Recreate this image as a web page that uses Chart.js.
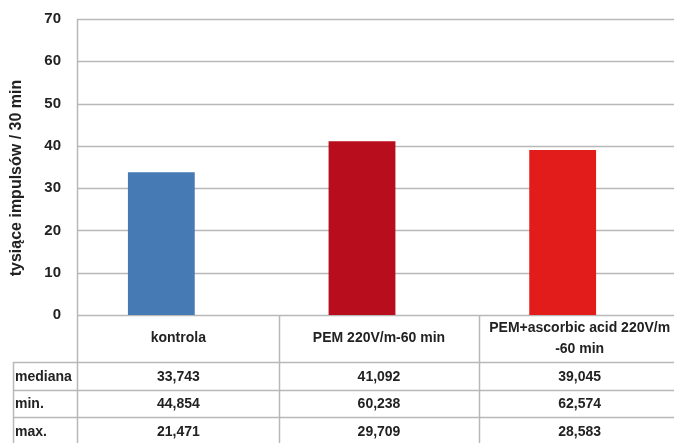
<!DOCTYPE html>
<html>
<head>
    <title>tysiące impulsów</title>
    <script src="https://cdn.jsdelivr.net/npm/chart.js"></script>
    <style>
        body { margin: 0; background: #fff; }
    </style>
</head>
<body>
    <canvas id="myChart" width="674" height="443"></canvas>
    <script>
        // data
        var categories = ['kontrola', 'PEM 220V/m-60 min', ['PEM+ascorbic acid 220V/m', '-60 min']];
        var mediana = [33.743, 41.092, 39.045];
        var minVals = [44.854, 60.238, 62.574];
        var maxVals = [21.471, 29.709, 28.583];
        var rowLabels = ['mediana', 'min.', 'max.'];
        var yTicks = [0, 10, 20, 30, 40, 50, 60, 70];
        var yTitle = 'tysiące impulsów / 30 min';
        var barColors = ['#457ab4', '#b80d1c', '#e21b1b'];

        var font = "'Liberation Sans', Arial, sans-serif";
        var gridColor = '#b8b8b8';
        var frameLeft = 77;   // where the frame / table starts
        var colShift = 17;    // table columns sit a bit right of the bars
        var rowH = [47, 27.5, 27.5, 27.5];

        function fmt(v) { return v.toFixed(3).replace('.', ','); }

        var framePlugin = {
            id: 'frame',
            beforeDatasetsDraw: function(chart) {
                var c = chart.ctx, y = chart.scales.y;
                c.save();
                c.strokeStyle = gridColor;
                c.lineWidth = 1.5;
                yTicks.forEach(function(t) {
                    var py = Math.round(y.getPixelForValue(t)) + 0.5;
                    c.beginPath();
                    c.moveTo(frameLeft, py);
                    c.lineTo(chart.width, py);
                    c.stroke();
                });
                c.beginPath();
                c.moveTo(frameLeft + 0.5, y.getPixelForValue(70));
                c.lineTo(frameLeft + 0.5, chart.height);
                c.stroke();
                // axis title
                c.fillStyle = '#222';
                c.font = 'bold 16px ' + font;
                c.textAlign = 'center';
                c.textBaseline = 'middle';
                c.translate(17, 178);
                c.rotate(-Math.PI / 2);
                c.fillText(yTitle, 0, 0);
                c.restore();
            },
            afterDraw: function(chart) {
                var c = chart.ctx, x = chart.scales.x, y = chart.scales.y;
                var catW = x.width / categories.length;
                var top = y.getPixelForValue(0);
                var rows = [mediana, minVals, maxVals];
                c.save();
                c.strokeStyle = gridColor;
                c.lineWidth = 1.5;
                c.fillStyle = '#222';
                c.textBaseline = 'middle';
                var yy = top;
                var lines = [];
                rowH.forEach(function(h) { yy += h; lines.push(yy); });
                // horizontal lines
                lines.slice(0, 3).forEach(function(ly) {
                    c.beginPath();
                    c.moveTo(13, Math.round(ly) + 0.5);
                    c.lineTo(chart.width, Math.round(ly) + 0.5);
                    c.stroke();
                });
                c.beginPath();
                c.moveTo(13.5, lines[0]);
                c.lineTo(13.5, chart.height);
                c.stroke();
                categories.forEach(function(cat, i) {
                    var cx = x.getPixelForValue(i) + colShift;
                    var left = cx - catW / 2;
                    if (i > 0) {
                        c.beginPath();
                        c.moveTo(Math.round(left) + 0.5, top);
                        c.lineTo(Math.round(left) + 0.5, chart.height);
                        c.stroke();
                    }
                    c.font = 'bold 14px ' + font;
                    c.textAlign = 'center';
                    var hMid = top + rowH[0] / 2;
                    if (Array.isArray(cat)) {
                        c.fillText(cat[0], cx, hMid - 10);
                        c.fillText(cat[1], cx, hMid + 11);
                    } else {
                        c.fillText(cat, cx, hMid);
                    }
                    rows.forEach(function(r, k) {
                        c.fillText(fmt(r[i]), cx, lines[k] + rowH[k + 1] / 2 + 1);
                    });
                });
                c.textAlign = 'left';
                rowLabels.forEach(function(lbl, k) {
                    c.fillText(lbl, 15, lines[k] + rowH[k + 1] / 2 + 1);
                });
                c.restore();
            }
        };

        var ctx = document.getElementById('myChart').getContext('2d');
        var chart = new Chart(ctx, {
            type: 'bar',
            data: {
                labels: categories,
                datasets: [{
                    label: 'mediana',
                    data: mediana,
                    backgroundColor: barColors,
                    borderWidth: 0,
                    barPercentage: 0.333,
                    categoryPercentage: 1
                }]
            },
            options: {
                responsive: false,
                animation: false,
                layout: { padding: { top: 19, bottom: 128, right: 11, left: 0 } },
                plugins: { legend: { display: false }, tooltip: { enabled: false } },
                scales: {
                    x: { display: false },
                    y: {
                        min: 0,
                        max: 70,
                        afterFit: function(scale) { scale.width = 61; },
                        afterBuildTicks: function(scale) {
                            scale.ticks = yTicks.map(function(v) { return { value: v }; });
                        },
                        grid: { display: false, drawTicks: false },
                        border: { display: false },
                        ticks: {
                            padding: 0,
                            color: '#222',
                            font: { family: font, size: 15, weight: 'bold' }
                        }
                    }
                }
            },
            plugins: [framePlugin]
        });
    </script>
</body>
</html>
